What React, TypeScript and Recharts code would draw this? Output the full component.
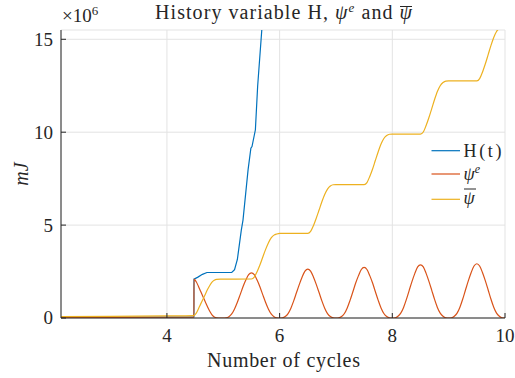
import React from 'react';
import { LineChart, Line, XAxis, YAxis, CartesianGrid } from 'recharts';

const xDomain: [number, number] = [2.12, 10];
const yDomain: [number, number] = [0, 15.5];
const xTicks = [4, 6, 8, 10];
const yTicks = [0, 5, 10, 15];

// values in units of 10^6 mJ
const historyH: [number, number][] = [
  [2.12, 0.03], [3.0, 0.04], [4.0, 0.05], [4.479, 0.06], [4.48, 2.09], [4.55, 2.2], [4.63, 2.35],
  [4.71, 2.45], [5.15, 2.45], [5.2, 2.6], [5.25, 3.15], [5.32, 4.73], [5.35, 5.27], [5.44, 7.97],
  [5.49, 9.14], [5.51, 9.23], [5.57, 10.13], [5.61, 12.47], [5.685, 15.56], [5.7, 16.3],
];

const psiE: [number, number][] = [
  [2.12, 0.02], [3.0, 0.03], [4.0, 0.04], [4.479, 0.05], [4.48, 2.09], [4.52, 1.95], [4.56, 1.7],
  [4.6, 1.42], [4.64, 1.15], [4.68, 0.88], [4.72, 0.6], [4.76, 0.36], [4.8, 0.17], [4.84, 0.06],
  [4.88, 0.01], [4.95, 0], [5.0, 0],
  [5.05, 0.01], [5.1, 0.07], [5.15, 0.22], [5.2, 0.49], [5.25, 0.85], [5.3, 1.26], [5.35, 1.68],
  [5.4, 2.04], [5.45, 2.33], [5.5, 2.43], [5.55, 2.33], [5.6, 2.04], [5.65, 1.68], [5.7, 1.26],
  [5.75, 0.85], [5.8, 0.49], [5.85, 0.22], [5.9, 0.07], [5.95, 0.01], [6.0, 0],
  [6.05, 0.01], [6.1, 0.08], [6.15, 0.24], [6.2, 0.53], [6.25, 0.92], [6.3, 1.37], [6.35, 1.81],
  [6.4, 2.21], [6.45, 2.52], [6.5, 2.63], [6.55, 2.52], [6.6, 2.21], [6.65, 1.81], [6.7, 1.37],
  [6.75, 0.92], [6.8, 0.53], [6.85, 0.24], [6.9, 0.08], [6.95, 0.01], [7.0, 0],
  [7.05, 0.01], [7.1, 0.08], [7.15, 0.24], [7.2, 0.54], [7.25, 0.95], [7.3, 1.41], [7.35, 1.88],
  [7.4, 2.28], [7.45, 2.61], [7.5, 2.72], [7.55, 2.61], [7.6, 2.28], [7.65, 1.88], [7.7, 1.41],
  [7.75, 0.95], [7.8, 0.54], [7.85, 0.24], [7.9, 0.08], [7.95, 0.01], [8.0, 0],
  [8.05, 0.01], [8.1, 0.09], [8.15, 0.26], [8.2, 0.57], [8.25, 1.0], [8.3, 1.49], [8.35, 1.97],
  [8.4, 2.4], [8.45, 2.75], [8.5, 2.86], [8.55, 2.75], [8.6, 2.4], [8.65, 1.97], [8.7, 1.49],
  [8.75, 1.0], [8.8, 0.57], [8.85, 0.26], [8.9, 0.09], [8.95, 0.01], [9.0, 0],
  [9.05, 0.01], [9.1, 0.09], [9.15, 0.26], [9.2, 0.58], [9.25, 1.02], [9.3, 1.52], [9.35, 2.01],
  [9.4, 2.45], [9.45, 2.8], [9.5, 2.92], [9.55, 2.8], [9.6, 2.45], [9.65, 2.01], [9.7, 1.52],
  [9.75, 1.02], [9.8, 0.58], [9.85, 0.26], [9.9, 0.09], [9.95, 0.01], [10.0, 0],
];

const psiBar: [number, number][] = [
  [2.12, 0.07], [3.0, 0.09], [4.0, 0.11], [4.48, 0.13], [4.52, 0.26], [4.56, 0.5], [4.6, 0.76],
  [4.64, 1.01], [4.68, 1.27], [4.72, 1.53], [4.76, 1.75], [4.8, 1.93], [4.84, 2.03], [4.88, 2.08],
  [4.95, 2.09], [5.5, 2.1], [5.55, 2.2], [5.6, 2.49], [5.65, 2.85], [5.7, 3.27], [5.75, 3.68],
  [5.8, 4.04], [5.85, 4.31], [5.9, 4.46], [5.95, 4.52], [6.0, 4.55], [6.5, 4.55], [6.55, 4.66],
  [6.6, 4.97], [6.65, 5.37], [6.7, 5.81], [6.75, 6.26], [6.8, 6.65], [6.85, 6.94], [6.9, 7.1],
  [6.95, 7.17], [7.0, 7.18], [7.5, 7.18], [7.55, 7.29], [7.6, 7.62], [7.65, 8.02], [7.7, 8.49],
  [7.75, 8.95], [7.8, 9.36], [7.85, 9.66], [7.9, 9.82], [7.95, 9.89], [8.0, 9.9], [8.5, 9.9],
  [8.55, 10.01], [8.6, 10.36], [8.65, 10.79], [8.7, 11.27], [8.75, 11.76], [8.8, 12.19],
  [8.85, 12.5], [8.9, 12.67], [8.95, 12.75], [9.0, 12.76], [9.5, 12.76], [9.55, 12.88],
  [9.6, 13.23], [9.65, 13.67], [9.7, 14.16], [9.75, 14.66], [9.8, 15.1], [9.85, 15.42],
  [9.9, 15.59], [9.95, 15.67], [10.0, 15.68],
];

const toRows = (pts: [number, number][]) => pts.map(([x, y]) => ({ x, y }));

const FONT = "'Liberation Serif', 'DejaVu Serif', serif";
const TXT = '#262626';
const X_MARGIN = 24;
const Y_MARGIN = 8;

const XTick = (props: any) => {
  const { x, y, payload } = props;
  const axisY = y - X_MARGIN;
  return (
    <g>
      <line x1={x} x2={x} y1={axisY} y2={axisY - 5} stroke={TXT} strokeWidth={1} />
      <text x={x} y={y} textAnchor="middle" style={{ fontFamily: FONT, fontSize: 19 }} fill={TXT}>
        {payload.value}
      </text>
    </g>
  );
};

const YTick = (props: any) => {
  const { x, y, payload } = props;
  const axisX = x + Y_MARGIN;
  return (
    <g>
      <line x1={axisX} x2={axisX + 5} y1={y} y2={y} stroke={TXT} strokeWidth={1} />
      <text x={x} y={y} dy="0.34em" textAnchor="end" style={{ fontFamily: FONT, fontSize: 19 }} fill={TXT}>
        {payload.value}
      </text>
    </g>
  );
};

const BLUE = '#0072BD';
const ORANGE = '#D95319';
const YELLOW = '#EDB120';

export default function App() {
  return (
    <div style={{ position: 'absolute', left: 0, top: 0, width: 515, height: 378, background: '#fff' }}>
      <LineChart width={515} height={378} margin={{ top: 30, right: 10, bottom: 0, left: 0 }}>
        <CartesianGrid stroke="#e3e3e3" strokeWidth={1} />
        <XAxis
          type="number"
          dataKey="x"
          domain={xDomain}
          ticks={xTicks}
          allowDataOverflow
          height={60}
          tickSize={0}
          tickMargin={X_MARGIN}
          tick={<XTick />}
          axisLine={{ stroke: TXT, strokeWidth: 1 }}
          tickLine={false}
        />
        <YAxis
          type="number"
          domain={yDomain}
          ticks={yTicks}
          allowDataOverflow
          width={61}
          tickSize={0}
          tickMargin={Y_MARGIN}
          tick={<YTick />}
          axisLine={{ stroke: TXT, strokeWidth: 1 }}
          tickLine={false}
        />
        <Line data={toRows(historyH)} dataKey="y" type="linear" stroke={BLUE} strokeWidth={1.2} dot={false} isAnimationActive={false} />
        <Line data={toRows(psiE)} dataKey="y" type="monotone" stroke={ORANGE} strokeWidth={1.2} dot={false} isAnimationActive={false} />
        <Line data={toRows(psiBar)} dataKey="y" type="monotone" stroke={YELLOW} strokeWidth={1.2} dot={false} isAnimationActive={false} />
      </LineChart>
      <svg width={515} height={378} style={{ position: 'absolute', left: 0, top: 0, pointerEvents: 'none', fontFamily: FONT }}>
        <g fill={TXT}>
          <text x={155} y={18.5} style={{ fontSize: 20 }} textLength={257} lengthAdjust="spacing">
            History variable H, <tspan fontStyle="italic">ψ</tspan>
            <tspan style={{ fontSize: 13 }} dy={-7} fontStyle="italic">e</tspan>
            <tspan dy={7}> and </tspan>
            <tspan fontStyle="italic">ψ</tspan>
          </text>
          <line x1={400} x2={412} y1={6.5} y2={6.5} stroke={TXT} strokeWidth={1} />
          <text x={62} y={21.5} style={{ fontSize: 19 }}>
            ×10<tspan style={{ fontSize: 13 }} dy={-7}>6</tspan>
          </text>
          <text x={283.5} y={366.5} style={{ fontSize: 20 }} textAnchor="middle" textLength={153} lengthAdjust="spacing">
            Number of cycles
          </text>
          <text transform="translate(28,174) rotate(-90)" style={{ fontSize: 20 }} fontStyle="italic" textAnchor="middle">
            mJ
          </text>
          <line x1={431.5} x2={460} y1={150.7} y2={150.7} stroke={BLUE} strokeWidth={1.2} />
          <line x1={431.5} x2={460} y1={174} y2={174} stroke={ORANGE} strokeWidth={1.2} />
          <line x1={431.5} x2={460} y1={199.3} y2={199.3} stroke={YELLOW} strokeWidth={1.2} />
          <text x={463.5} y={156.5} style={{ fontSize: 18 }} textLength={38} lengthAdjust="spacing">H(t)</text>
          <text x={463.5} y={180} style={{ fontSize: 18 }} fontStyle="italic">
            ψ<tspan style={{ fontSize: 12 }} dy={-7}>e</tspan>
          </text>
          <text x={463.5} y={204} style={{ fontSize: 18 }} fontStyle="italic">ψ</text>
          <line x1={464} x2={476} y1={189} y2={189} stroke={TXT} strokeWidth={1} />
        </g>
      </svg>
    </div>
  );
}
